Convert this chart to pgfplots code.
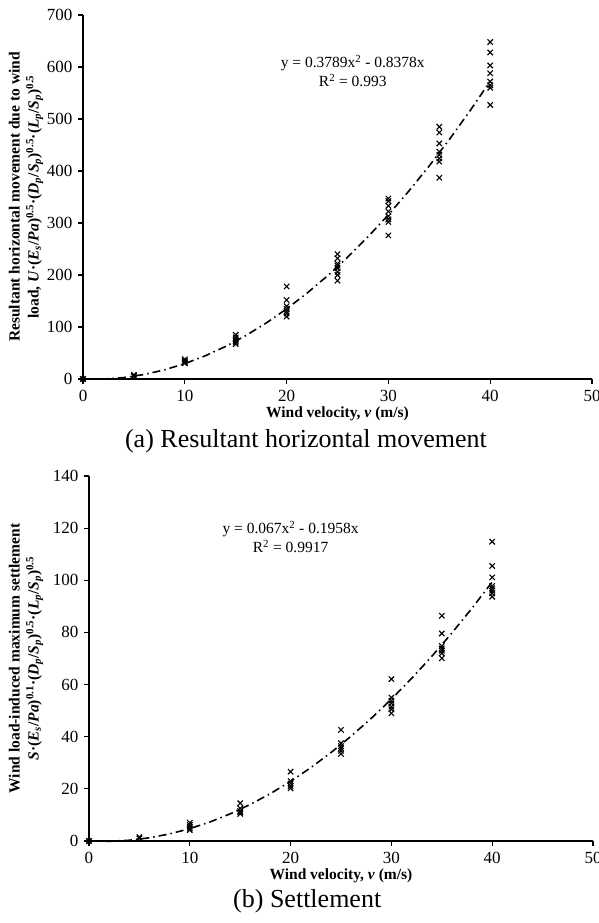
\documentclass[border=0pt]{standalone}
\usepackage{fontspec}
\setmainfont{Liberation Serif}
\usepackage{pgfplots}
\pgfplotsset{compat=1.18}

% Measured points at each wind velocity
\pgfplotstableread{
v U
0 0
0 0
5 8
5 6
5 5
10 38
10 35
10 33
10 31
10 30
15 85
15 80
15 76
15 73
15 70
15 67
20 178
20 152
20 140
20 135
20 130
20 126
20 120
25 240
25 232
25 222
25 218
25 213
25 206
25 200
25 189
30 347
30 342
30 333
30 322
30 313
30 307
30 302
30 276
35 485
35 474
35 453
35 437
35 431
35 424
35 418
35 387
40 648
40 628
40 603
40 588
40 572
40 565
40 560
40 527
}\movetable

\pgfplotstableread{
v S
0 0
0 0
5 1.5
5 1.0
10 7.0
10 6.2
10 5.5
10 4.8
10 4.2
15 14.5
15 12.5
15 11.5
15 11.0
15 10.4
20 26.6
20 23.0
20 22.1
20 21.1
20 20.2
25 42.6
25 37.5
25 36.4
25 35.5
25 34.6
25 33.4
30 62.1
30 55.0
30 53.8
30 52.8
30 51.5
30 50.5
30 49.0
35 86.4
35 79.6
35 74.8
35 73.9
35 73.0
35 72.0
35 70.1
40 114.8
40 105.5
40 101.1
40 97.8
40 96.9
40 96.0
40 95.0
40 93.7
}\settletable

% Quadratic trend lines, tabulated from y = 0.3789x^2 - 0.8378x and y = 0.067x^2 - 0.1958x
\pgfplotstableread{
x y
0 0
2 -0.160
4 2.711
6 8.614
8 17.547
10 29.512
12 44.508
14 62.535
16 83.594
18 107.683
20 134.804
22 164.956
24 198.139
26 234.354
28 273.599
30 315.876
32 361.184
34 409.523
36 460.894
38 515.295
40 572.728
}\movefit

\pgfplotstableread{
x y
0 0
2 -0.124
4 0.289
6 1.237
8 2.722
10 4.742
12 7.298
14 10.391
16 14.019
18 18.184
20 22.884
22 28.120
24 33.893
26 40.201
28 47.046
30 54.426
32 62.342
34 70.795
36 79.783
38 89.308
40 99.368
}\settlefit

\pgfplotsset{
  windaxis/.style={
    scale only axis,
    axis lines*=left,
    axis line style={line width=1.5pt, -},
    xmin=0, xmax=50,
    xtick={0,10,...,50},
    tick align=outside,
    major tick length=5pt,
    every tick/.style={line width=1.2pt, black},
    tick label style={font=\fontsize{17}{19}\selectfont},
    xticklabel style={yshift=-3pt},
    yticklabel style={xshift=-2pt},
    /pgf/number format/assume math mode=true,
    xlabel={Wind velocity, \textit{v} (m/s)},
    xlabel style={font=\bfseries\fontsize{15.5}{17}\selectfont, at={(axis description cs:0.5,-0.095)}, anchor=center},
    ylabel style={font=\bfseries\fontsize{15.5}{19}\selectfont, align=center, anchor=center},
    clip=false,
  },
  pts/.style={only marks, mark=x, mark size=3.8pt, mark options={line width=1.1pt, black}},
  fit/.style={black, line width=1.6pt, dash pattern=on 8pt off 4pt on 1.5pt off 4pt, no marks},
}

\begin{document}
\begin{tikzpicture}
\useasboundingbox (0pt,0pt) rectangle (599pt,923pt);

% (a) Resultant horizontal movement
\begin{axis}[windaxis,
  at={(83pt,544pt)}, anchor=south west,
  width=509pt, height=364pt,
  ymin=0, ymax=700, ytick={0,100,...,700},
  ylabel={Resultant horizontal movement due to wind\\load, \textit{U}·(\textit{E}\textsubscript{\textit{s}}/\textit{Pa})\textsuperscript{0.5}·(\textit{D}\textsubscript{\textit{p}}/\textit{S}\textsubscript{\textit{p}})\textsuperscript{0.5}·(\textit{L}\textsubscript{\textit{p}}/\textit{S}\textsubscript{\textit{p}})\textsuperscript{0.5}},
  ylabel style={at={(axis description cs:-0.112,0.5)}},
]
\addplot[fit] table[x=x, y=y] {\movefit};
\addplot[pts] table[x=v, y=U] {\movetable};
\node[align=center, font=\fontsize{15.5}{19}\selectfont] at (axis cs:26.5,592) {y = 0.3789x\textsuperscript{2} - 0.8378x\\R\textsuperscript{2} = 0.993};
\node[font=\fontsize{26}{30}\selectfont] at (axis description cs:0.438,-0.172) {(a) Resultant horizontal movement};
\end{axis}

% (b) Settlement
\begin{axis}[windaxis,
  at={(89pt,82pt)}, anchor=south west,
  width=504pt, height=365pt,
  ymin=0, ymax=140, ytick={0,20,...,140},
  ylabel={Wind load-induced maximum settlement\\\textit{S}·(\textit{E}\textsubscript{\textit{s}}/\textit{Pa})\textsuperscript{0.1}·(\textit{D}\textsubscript{\textit{p}}/\textit{S}\textsubscript{\textit{p}})\textsuperscript{0.5}·(\textit{L}\textsubscript{\textit{p}}/\textit{S}\textsubscript{\textit{p}})\textsuperscript{0.5}},
  ylabel style={at={(axis description cs:-0.125,0.5)}},
]
\addplot[fit] table[x=x, y=y] {\settlefit};
\addplot[pts] table[x=v, y=S] {\settletable};
\node[align=center, font=\fontsize{15.5}{19}\selectfont] at (axis cs:20.0,116.6) {y = 0.067x\textsuperscript{2} - 0.1958x\\R\textsuperscript{2} = 0.9917};
\node[font=\fontsize{26}{30}\selectfont] at (axis description cs:0.433,-0.165) {(b) Settlement};
\end{axis}
\end{tikzpicture}
\end{document}
